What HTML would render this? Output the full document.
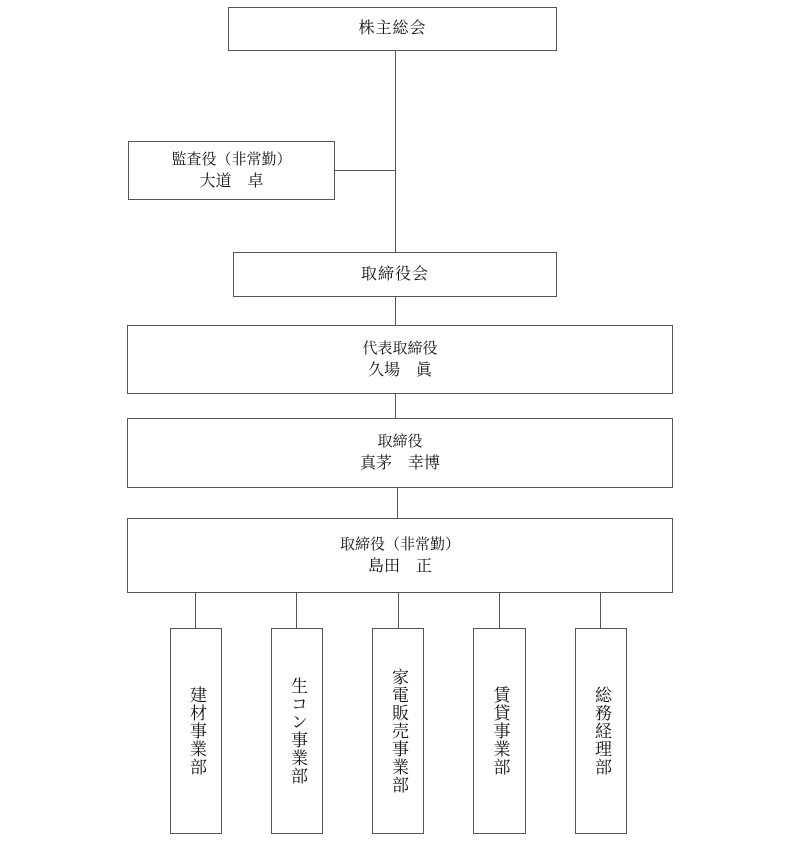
<!DOCTYPE html>
<html><head><meta charset="utf-8"><style>
body{margin:0;width:800px;height:841px;background:#fff;position:relative;font-family:"Liberation Serif","Noto Serif CJK SC",serif;color:#111;}
.b{position:absolute;border:1px solid #555;box-sizing:border-box;background:#fff;display:flex;flex-direction:column;align-items:center;justify-content:center;font-size:15px;line-height:22px;text-align:center;}
.l{position:absolute;background:#555;}
.v{writing-mode:vertical-rl;font-size:17px;letter-spacing:1px;line-height:20px;}
.big{font-size:16px;}
</style></head><body>
<div class="l" style="left:395px;top:50px;width:1px;height:203px"></div>
<div class="l" style="left:334px;top:170px;width:61px;height:1px"></div>
<div class="l" style="left:395px;top:296px;width:1px;height:30px"></div>
<div class="l" style="left:395px;top:393px;width:1px;height:26px"></div>
<div class="l" style="left:397px;top:487px;width:1px;height:32px"></div>
<div class="l" style="left:195px;top:592px;width:1px;height:37px"></div>
<div class="l" style="left:296px;top:592px;width:1px;height:37px"></div>
<div class="l" style="left:398px;top:592px;width:1px;height:37px"></div>
<div class="l" style="left:499px;top:592px;width:1px;height:37px"></div>
<div class="l" style="left:600px;top:592px;width:1px;height:37px"></div>

<div class="b big" style="left:228px;top:7px;width:329px;height:44px;letter-spacing:1px">株主総会</div>
<div class="b" style="left:128px;top:141px;width:207px;height:59px"><div>監査役（非常勤）</div><div class="big">大道　卓</div></div>
<div class="b big" style="left:233px;top:252px;width:324px;height:45px;letter-spacing:1px">取締役会</div>
<div class="b" style="left:127px;top:325px;width:546px;height:69px"><div>代表取締役</div><div class="big">久場　眞</div></div>
<div class="b" style="left:127px;top:418px;width:546px;height:70px"><div>取締役</div><div class="big">真茅　幸博</div></div>
<div class="b" style="left:127px;top:518px;width:546px;height:75px"><div>取締役（非常勤）</div><div class="big">島田　正</div></div>

<div class="b" style="left:170px;top:628px;width:52px;height:206px"><div class="v">建材事業部</div></div>
<div class="b" style="left:271px;top:628px;width:52px;height:206px"><div class="v">生コン事業部</div></div>
<div class="b" style="left:372px;top:628px;width:52px;height:206px"><div class="v">家電販売事業部</div></div>
<div class="b" style="left:473px;top:628px;width:53px;height:206px"><div class="v">賃貸事業部</div></div>
<div class="b" style="left:575px;top:628px;width:52px;height:206px"><div class="v">総務経理部</div></div>
</body></html>
